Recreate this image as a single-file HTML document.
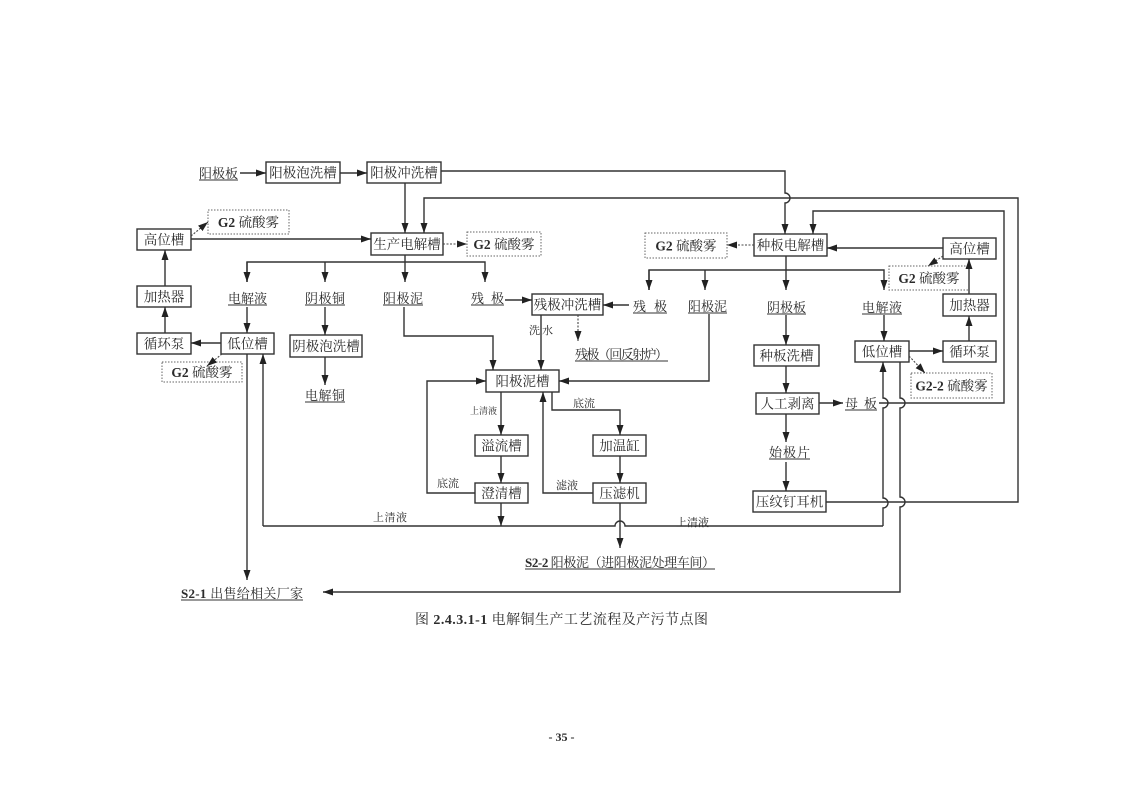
<!DOCTYPE html>
<html><head><meta charset="utf-8">
<style>
html,body{margin:0;padding:0;background:#fff;}
svg{display:block;}
text{font-family:"Liberation Serif","Noto Serif CJK SC",serif;fill:#2b2b2b;}
</style></head>
<body>
<svg width="1122" height="793" viewBox="0 0 1122 793" xmlns="http://www.w3.org/2000/svg">
<defs>
<marker id="a" markerUnits="userSpaceOnUse" markerWidth="10" markerHeight="7" refX="10" refY="3.5" orient="auto">
<path d="M0,0 L10,3.5 L0,7 z" fill="#222"/>
</marker>
</defs>
<rect width="1122" height="793" fill="#fff"/>

<g fill="none" stroke="#333" stroke-width="1.4">
<!-- boxes -->
<rect x="266" y="162" width="74" height="21"/>
<rect x="367" y="162" width="74" height="21"/>
<rect x="371" y="233" width="72" height="22"/>
<rect x="137" y="229" width="54" height="21"/>
<rect x="137" y="286" width="54" height="21"/>
<rect x="137" y="333" width="54" height="21"/>
<rect x="221" y="333" width="53" height="21"/>
<rect x="290" y="335" width="72" height="22"/>
<rect x="532" y="294" width="71" height="21"/>
<rect x="486" y="370" width="73" height="22"/>
<rect x="475" y="435" width="53" height="21"/>
<rect x="475" y="483" width="53" height="20"/>
<rect x="593" y="435" width="53" height="21"/>
<rect x="593" y="483" width="53" height="20"/>
<rect x="754" y="234" width="73" height="22"/>
<rect x="943" y="238" width="53" height="21"/>
<rect x="943" y="294" width="53" height="22"/>
<rect x="943" y="341" width="53" height="21"/>
<rect x="855" y="341" width="54" height="21"/>
<rect x="754" y="345" width="65" height="21"/>
<rect x="756" y="393" width="63" height="21"/>
<rect x="753" y="491" width="73" height="21"/>
</g>

<g fill="none" stroke="#666" stroke-width="1" stroke-dasharray="1.5,1.5">
<rect x="208" y="210" width="81" height="24"/>
<rect x="467" y="232" width="74" height="24"/>
<rect x="162" y="362" width="80" height="20"/>
<rect x="645" y="233" width="82" height="25"/>
<rect x="889" y="266" width="80" height="24"/>
<rect x="911" y="373" width="81" height="25"/>
</g>

<!-- solid connectors -->
<g fill="none" stroke="#333" stroke-width="1.4">
<path d="M240,173 H266" marker-end="url(#a)"/>
<path d="M340,173 H367" marker-end="url(#a)"/>
<path d="M441,171 H785 V193 A5,5 0 0 1 785,203 V234" marker-end="url(#a)"/>
<path d="M405,183 V233" marker-end="url(#a)"/>
<path d="M826,502 H1018 V198 H424 V233" marker-end="url(#a)"/>
<path d="M879,403 H1004 V211 H813 V234" marker-end="url(#a)"/>
<path d="M191,239 H371" marker-end="url(#a)"/>
<path d="M165,286 V250" marker-end="url(#a)"/>
<path d="M165,333 V307" marker-end="url(#a)"/>
<path d="M221,343 H191" marker-end="url(#a)"/>
<!-- distribution left -->
<path d="M405,255 V282" marker-end="url(#a)"/>
<path d="M247,282 V262 H485 V282" marker-end="url(#a)"/>
<path d="M247,262 V282" marker-end="url(#a)"/>
<path d="M325,262 V282" marker-end="url(#a)"/>
<path d="M247,307 V333" marker-end="url(#a)"/>
<path d="M325,307 V335" marker-end="url(#a)"/>
<path d="M325,357 V385" marker-end="url(#a)"/>
<path d="M404,307 V336 H493 V370" marker-end="url(#a)"/>
<path d="M505,300 H532" marker-end="url(#a)"/>
<path d="M629,305 H603" marker-end="url(#a)"/>
<path d="M541,315 V370" marker-end="url(#a)"/>
<path d="M709,314 V381 H559" marker-end="url(#a)"/>
<path d="M475,493 H427 V381 H486" marker-end="url(#a)"/>
<path d="M501,392 V435" marker-end="url(#a)"/>
<path d="M501,456 V483" marker-end="url(#a)"/>
<path d="M501,503 V526" marker-end="url(#a)"/>
<path d="M263,526 H615 A5,5 0 0 1 625,526 H883"/>
<path d="M263,526 V354" marker-end="url(#a)"/>
<path d="M883,526 V508 A5,5 0 0 0 883,498 V408 A5,5 0 0 0 883,398 V362" marker-end="url(#a)"/>
<path d="M552,392 V410 H620 V435" marker-end="url(#a)"/>
<path d="M620,456 V483" marker-end="url(#a)"/>
<path d="M593,493 H543 V392" marker-end="url(#a)"/>
<path d="M620,503 V548" marker-end="url(#a)"/>
<path d="M247,354 V580" marker-end="url(#a)"/>
<path d="M900,362 V398 A5,5 0 0 1 900,408 V497 A5,5 0 0 1 900,507 V592 H323" marker-end="url(#a)"/>
<!-- right side -->
<path d="M943,248 H827" marker-end="url(#a)"/>
<path d="M969,294 V259" marker-end="url(#a)"/>
<path d="M969,341 V316" marker-end="url(#a)"/>
<path d="M909,351 H943" marker-end="url(#a)"/>
<path d="M786,256 V290" marker-end="url(#a)"/>
<path d="M649,290 V270 H884 V290" marker-end="url(#a)"/>
<path d="M649,270 V290" marker-end="url(#a)"/>
<path d="M705,270 V290" marker-end="url(#a)"/>
<path d="M786,315 V345" marker-end="url(#a)"/>
<path d="M786,366 V393" marker-end="url(#a)"/>
<path d="M819,403 H843" marker-end="url(#a)"/>
<path d="M786,414 V442" marker-end="url(#a)"/>
<path d="M786,462 V491" marker-end="url(#a)"/>
<path d="M884,315 V341" marker-end="url(#a)"/>
</g>

<!-- dotted connectors -->
<g fill="none" stroke="#444" stroke-width="1.1" stroke-dasharray="2,1.5">
<path d="M191,236 L208,222" marker-end="url(#a)"/>
<path d="M443,244 H467" marker-end="url(#a)"/>
<path d="M222,354 L207,366" marker-end="url(#a)"/>
<path d="M578,315 V341" marker-end="url(#a)"/>
<path d="M754,245 H727" marker-end="url(#a)"/>
<path d="M943,256 L928,266" marker-end="url(#a)"/>
<path d="M909,356 L925,373" marker-end="url(#a)"/>
</g>

<!-- underlines -->
<g stroke="#333" stroke-width="1">
<line x1="199" y1="180" x2="238" y2="180"/>
<line x1="228" y1="305" x2="267" y2="305"/>
<line x1="305" y1="305" x2="345" y2="305"/>
<line x1="383" y1="305" x2="423" y2="305"/>
<line x1="471" y1="305" x2="504" y2="305"/>
<line x1="305" y1="402" x2="345" y2="402"/>
<line x1="633" y1="313" x2="667" y2="313"/>
<line x1="688" y1="313" x2="727" y2="313"/>
<line x1="767" y1="314" x2="806" y2="314"/>
<line x1="862" y1="314" x2="902" y2="314"/>
<line x1="575" y1="361" x2="668" y2="361"/>
<line x1="845" y1="410" x2="877" y2="410"/>
<line x1="769" y1="459" x2="810" y2="459"/>
<line x1="181" y1="600" x2="303" y2="600"/>
<line x1="525" y1="569" x2="715" y2="569"/>
</g>

<!-- box text -->
<g font-size="13.5" text-anchor="middle">
<text x="303" y="177.5">阳极泡洗槽</text>
<text x="404" y="177.5">阳极冲洗槽</text>
<text x="407" y="249">生产电解槽</text>
<text x="164" y="244.5">高位槽</text>
<text x="164" y="301.5">加热器</text>
<text x="164" y="348.5">循环泵</text>
<text x="247.5" y="348.5">低位槽</text>
<text x="326" y="351">阴极泡洗槽</text>
<text x="567.5" y="309.5">残极冲洗槽</text>
<text x="522.5" y="386">阳极泥槽</text>
<text x="501.5" y="450.5">溢流槽</text>
<text x="501.5" y="498">澄清槽</text>
<text x="619.5" y="450.5">加温缸</text>
<text x="619.5" y="498">压滤机</text>
<text x="790.5" y="250">种板电解槽</text>
<text x="969.5" y="253.5">高位槽</text>
<text x="969.5" y="310">加热器</text>
<text x="969.5" y="356.5">循环泵</text>
<text x="882" y="356.5">低位槽</text>
<text x="786.5" y="360.5">种板洗槽</text>
<text x="787.5" y="408.5">人工剥离</text>
<text x="789.5" y="506.5">压纹钉耳机</text>
<!-- G2 boxes -->
<text x="248.5" y="227"><tspan font-weight="bold">G2</tspan> 硫酸雾</text>
<text x="504" y="249"><tspan font-weight="bold">G2</tspan> 硫酸雾</text>
<text x="202" y="377"><tspan font-weight="bold">G2</tspan> 硫酸雾</text>
<text x="686" y="250.5"><tspan font-weight="bold">G2</tspan> 硫酸雾</text>
<text x="929" y="283"><tspan font-weight="bold">G2</tspan> 硫酸雾</text>
<text x="951.5" y="390.5"><tspan font-weight="bold">G2-2</tspan> 硫酸雾</text>
</g>

<!-- underlined labels -->
<g font-size="13">
<text x="199" y="178" textLength="39">阳极板</text>
<text x="228" y="303" textLength="39">电解液</text>
<text x="305" y="303" textLength="40">阴极铜</text>
<text x="383" y="303" textLength="40">阳极泥</text>
<text x="471" y="303" textLength="33">残 极</text>
<text x="305" y="400" textLength="40">电解铜</text>
<text x="633" y="311" textLength="34">残 极</text>
<text x="688" y="311" textLength="39">阳极泥</text>
<text x="767" y="312" textLength="39">阴极板</text>
<text x="862" y="312" textLength="40">电解液</text>
<text x="575" y="359" textLength="93">残极（回反射炉）</text>
<text x="845" y="408" textLength="32">母 板</text>
<text x="769" y="457" textLength="41">始极片</text>
<text x="181" y="598" textLength="122"><tspan font-weight="bold">S2-1</tspan> 出售给相关厂家</text>
<text x="525" y="567" textLength="190"><tspan font-weight="bold">S2-2</tspan> 阳极泥（进阳极泥处理车间）</text>
</g>

<!-- small labels -->
<g font-size="11" fill="#444">
<text x="529" y="334" textLength="24">洗水</text>
<text x="470" y="414" font-size="9" textLength="27">上清液</text>
<text x="573" y="407" textLength="22">底流</text>
<text x="437" y="487" textLength="22">底流</text>
<text x="556" y="489" textLength="22">滤液</text>
<text x="373" y="521" textLength="34">上清液</text>
<text x="676" y="526" textLength="33">上清液</text>
</g>

<!-- caption -->
<text x="415" y="624" font-size="14" textLength="293">图 <tspan font-weight="bold">2.4.3.1-1</tspan> 电解铜生产工艺流程及产污节点图</text>
<text x="561.5" y="741" font-size="12" font-weight="bold" text-anchor="middle">- 35 -</text>
</svg>
</body></html>
